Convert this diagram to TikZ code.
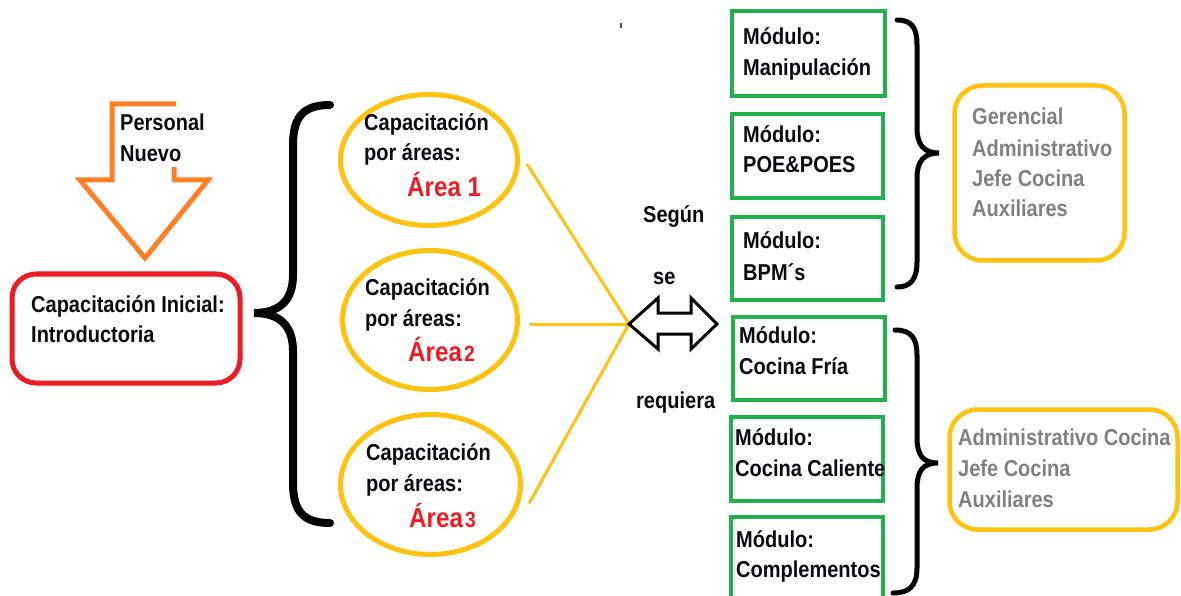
\documentclass[tikz,border=0pt]{standalone}
\usepackage{fontspec}
\setmainfont{Liberation Sans}[FakeStretch=0.87]
\newfontfamily\areafont{Liberation Sans}[FakeStretch=0.88]
\usetikzlibrary{shapes.geometric,calc}
\definecolor{redline}{HTML}{ED1C24}
\definecolor{orangeline}{HTML}{FF7F27}
\definecolor{yellowline}{HTML}{FFC20E}
\definecolor{greenline}{HTML}{22B14C}
\definecolor{greytext}{HTML}{808080}
\definecolor{inktext}{HTML}{0A0A14}

\begin{document}
\begin{tikzpicture}[x=1pt,y=-1pt,
  lbl/.style={anchor=base west,inner sep=0,text=inktext,font=\fontsize{23}{26}\selectfont\bfseries},
  grey/.style={lbl,text=greytext},
  arealbl/.style={anchor=base west,inner sep=0,text=redline,font=\areafont\fontsize{27.5}{28}\selectfont\bfseries},
  redbox/.style={draw=redline,line width=5pt,rounded corners=24pt,inner sep=0},
  oval/.style={ellipse,draw=yellowline,line width=5pt,inner sep=0},
  greenbox/.style={draw=greenline,line width=4pt,inner sep=0},
  yellowbox/.style={draw=yellowline,line width=4.5pt,rounded corners=28pt,inner sep=0},
  yline/.style={draw=yellowline,line width=3pt},
  bigbrace/.style={draw=black,line width=8pt,line cap=round},
  smallbrace/.style={draw=black,line width=5pt,line cap=round},
]
\useasboundingbox[fill=white] (0,0) rectangle (1181,596);

% incoming staff arrow
\draw[orangeline,line width=5pt,line join=miter]
  (176,104) -- (112,104) -- (112,180) -- (80,180) -- (145,258) -- (208,180) -- (174,180) -- (174,167);
\node[lbl] (pers1) at (120,131) {Personal};
\node[lbl] (pers2) at (120,162) {Nuevo};

% initial training
\node[redbox,minimum width=228pt,minimum height=109pt] (ini) at (126,328.5) {};
\node[lbl] (ini1) at (31,312) {Capacitación Inicial:};
\node[lbl] (ini2) at (31,342) {Introductoria};

% left brace
\draw[bigbrace] (330,105) .. controls (305,105) and (293,115) .. (293,145)
  -- (293,275) .. controls (293,300) and (280,313) .. (254,313)
  .. controls (280,313) and (293,326) .. (293,351)
  -- (293,483) .. controls (293,513) and (305,523) .. (330,523);

% training by area
\node[oval,minimum width=177pt,minimum height=131pt] (e1) at (429,160) {};
\node[oval,minimum width=175pt,minimum height=139pt] (e2) at (430,320) {};
\node[oval,minimum width=180pt,minimum height=140pt] (e3) at (430.5,484.5) {};
\node[lbl] (a1a) at (364,131) {Capacitación};
\node[lbl] (a1b) at (364,161) {por áreas:};
\node[arealbl] (a1c) at (407,197) {Área 1};
\node[lbl] (a2a) at (365,295) {Capacitación};
\node[lbl] (a2b) at (365,326) {por áreas:};
\node[arealbl] (a2c) at (408,361) {Área\kern2pt{\fontsize{22}{22}\selectfont 2}};
\node[lbl] (a3a) at (366,460) {Capacitación};
\node[lbl] (a3b) at (366,491) {por áreas:};
\node[arealbl] (a3c) at (409,527) {Área\kern2pt{\fontsize{22}{22}\selectfont 3}};

% lines meeting at the double arrow
\coordinate (hub) at (629,324);
\draw[yline] ($(e1.east)+(7,4)$) -- (hub);
\draw[yline] ($(e2.east)+(10,4)$) -- (hub);
\draw[yline] ($(e3.east)+(6,19)$) -- (hub);

% double arrow
\draw[black,line width=3pt,line join=miter] (hub) -- (658,298) -- (658,313) -- (691,313) -- (691,298)
  -- (717,324) -- (691,349) -- (691,334) -- (658,334) -- (658,349) -- cycle;
\node[lbl] (seg1) at (643,223) {Según};
\node[lbl] (seg2) at (653,284) {se};
\node[lbl] (seg3) at (636,408) {requiera};

% small stray mark
\draw[black!70,line width=1.5pt] (621,23) -- (621,28);

% modules
\node[greenbox,minimum width=153pt,minimum height=85pt] (m1) at (808.5,53.5) {};
\node[greenbox,minimum width=151pt,minimum height=84pt] (m2) at (807.5,156) {};
\node[greenbox,minimum width=151pt,minimum height=83pt] (m3) at (807.5,258.5) {};
\node[greenbox,minimum width=152pt,minimum height=83pt] (m4) at (809,358.5) {};
\node[greenbox,minimum width=152pt,minimum height=84pt] (m5) at (807,459) {};
\node[greenbox,minimum width=152pt,minimum height=100pt] (m6) at (807,567) {};
\node[lbl] (m1a) at (743,45) {Módulo:};
\node[lbl] (m1b) at (743,76) {Manipulación};
\node[lbl] (m2a) at (743,143) {Módulo:};
\node[lbl] (m2b) at (743,173) {POE\&POES};
\node[lbl] (m3a) at (743,248) {Módulo:};
\node[lbl] (m3b) at (743,280) {BPM´s};
\node[lbl] (m4a) at (739,343) {Módulo:};
\node[lbl] (m4b) at (739,374) {Cocina Fría};
\node[lbl] (m5a) at (735,445) {Módulo:};
\node[lbl] (m5b) at (735,476) {Cocina Caliente};
\node[lbl] (m6a) at (736,547) {Módulo:};
\node[lbl] (m6b) at (736,577) {Complementos};

% right braces
\draw[smallbrace] (897,20) .. controls (912,20) and (917,28) .. (917,45)
  -- (917,128) .. controls (917,145) and (924,153) .. (939,153)
  .. controls (924,153) and (917,161) .. (917,178)
  -- (917,262) .. controls (917,280) and (910,287) .. (897,287);
\draw[smallbrace] (895,330) .. controls (911,330) and (917,338) .. (917,355)
  -- (917,438) .. controls (917,455) and (923,463) .. (938,463)
  .. controls (923,463) and (917,471) .. (917,488)
  -- (917,568) .. controls (917,586) and (909,593) .. (893,593);

% staff groups
\node[yellowbox,minimum width=170pt,minimum height=175pt] (g1) at (1039.5,173) {};
\node[grey] (g1a) at (972,125) {Gerencial};
\node[grey] (g1b) at (972,157) {Administrativo};
\node[grey] (g1c) at (972,187) {Jefe Cocina};
\node[grey] (g1d) at (972,217) {Auxiliares};
\node[yellowbox,minimum width=228pt,minimum height=120pt] (g2) at (1063.5,469.5) {};
\node[grey] (g2a) at (958,445) {Administrativo Cocina};
\node[grey] (g2b) at (958,476) {Jefe Cocina};
\node[grey] (g2c) at (958,507) {Auxiliares};
\end{tikzpicture}
\end{document}
